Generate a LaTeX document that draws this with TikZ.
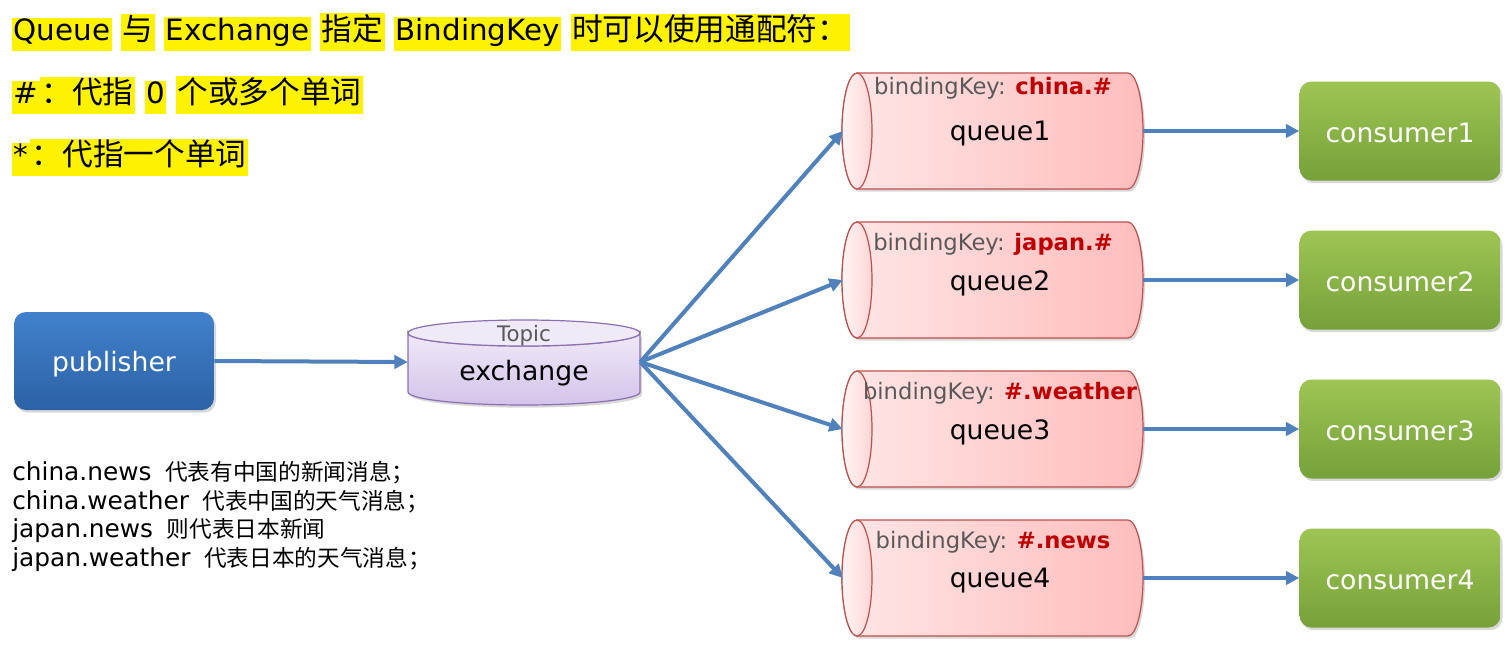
\documentclass[tikz,border=0pt]{standalone}
\usepackage{fontspec}
\setmainfont{DejaVu Sans}
\newfontfamily\cjk{Noto Sans CJK SC}
\usetikzlibrary{arrows.meta,shadows}
\definecolor{arrowblue}{HTML}{4F81BD}
\definecolor{pubtop}{HTML}{4181CC}
\definecolor{pubbot}{HTML}{2C62A6}
\definecolor{contop}{HTML}{9EC553}
\definecolor{conbot}{HTML}{76A13A}
\definecolor{qleft}{HTML}{FFE6E6}
\definecolor{qright}{HTML}{FFBDBD}
\definecolor{qendl}{HTML}{FFF4F4}
\definecolor{qendr}{HTML}{FFD6D6}
\definecolor{qborder}{HTML}{C0504D}
\definecolor{extop}{HTML}{F0E9F8}
\definecolor{exbot}{HTML}{D3C3EA}
\definecolor{exborder}{HTML}{8A70B0}
\definecolor{keyred}{HTML}{C00000}
\definecolor{greytext}{HTML}{595959}
\newcommand\zh[1]{{\cjk\fontsize{23}{20}\selectfont #1}}
\newcommand\zhn[1]{{\cjk\fontsize{17}{21.4}\selectfont #1}}
\newcommand\hlt[1]{{\setlength{\fboxsep}{1.2pt}\colorbox{yellow}{\strut #1}}}
\newcommand\queuecyl[1]{%
  \path[qbody] (857,#1-58) -- (1128,#1-58)
    arc[start angle=-90,end angle=90,x radius=15,y radius=58]
    -- (857,#1+58)
    arc[start angle=90,end angle=270,x radius=15,y radius=58] -- cycle;
  \path[qend] (857,#1) ellipse[x radius=15,y radius=58];
}
\tikzset{
  flow/.style={draw=arrowblue, line width=3pt, -{Triangle[length=10pt,width=10pt]}, shorten >=0pt},
  boxshadow/.style={drop shadow={opacity=0.3, shadow xshift=1.5pt, shadow yshift=-2pt}},
  pubbox/.style={rounded corners=9pt, top color=pubtop, bottom color=pubbot, minimum width=150pt, minimum height=73.5pt, inner sep=0pt, boxshadow},
  conbox/.style={rounded corners=9pt, top color=contop, bottom color=conbot, minimum width=150.75pt, minimum height=74.25pt, inner sep=0pt, boxshadow},
  boxlbl/.style={text=white, font=\fontsize{20}{24}\selectfont, inner sep=0pt},
  qbody/.style={draw=qborder, line width=0.9pt, left color=qleft, right color=qright, boxshadow},
  qend/.style={draw=qborder, line width=0.9pt, left color=qendl, right color=qendr},
  qnode/.style={minimum width=225pt, minimum height=87pt, inner sep=0pt},
  keylbl/.style={text=greytext, font=\fontsize{17}{20}\selectfont, inner sep=0pt},
  qlbl/.style={text=black, font=\fontsize{20}{24}\selectfont, inner sep=0pt},
  headline/.style={anchor=west, inner sep=0pt, font=\fontsize{22}{20}\selectfont},
}
\begin{document}
\begin{tikzpicture}[x=0.75pt, y=-0.75pt]
\useasboundingbox[fill=white] (0,0) rectangle (1511,647);

% headings
\node[headline] (title) at (12,32)
  {\hlt{Queue} \hlt{\zh{与}} \hlt{Exchange} \hlt{\zh{指定}} \hlt{BindingKey} \hlt{\zh{时可以使用通配符：}}};
\node[headline] (hash) at (12,95)
  {\hlt{\#}\hlt{\zh{：代指}} \hlt{0} \hlt{\zh{个或多个单词}}};
\node[headline] (star) at (12,157)
  {\hlt{*}\hlt{\zh{：代指一个单词}}};

% publisher
\node[pubbox] (pub) at (114,361) {};
\node[boxlbl] (publbl) at (114,364) {publisher};

% exchange cylinder
\path[draw=exborder, line width=0.9pt, top color=extop, bottom color=exbot, boxshadow]
  (408,333) -- (408,392) arc[start angle=180,end angle=0,x radius=116,y radius=13]
  -- (640,333) arc[start angle=0,end angle=180,x radius=116,y radius=13] -- cycle;
\path[draw=exborder, line width=0.9pt, fill=extop] (524,333) ellipse[x radius=116,y radius=13];
\node[minimum width=174pt, minimum height=64pt, inner sep=0pt] (ex) at (524,362) {};
\node[text=greytext, font=\fontsize{16}{19}\selectfont, inner sep=0pt] (topic) at (524,336) {Topic};
\node[qlbl] (exlbl) at (524,373) {exchange};

% queues
\queuecyl{131}
\queuecyl{280}
\queuecyl{429}
\queuecyl{578}
\node[qnode] (q1) at (993,131) {};
\node[qnode] (q2) at (993,280) {};
\node[qnode] (q3) at (993,429) {};
\node[qnode] (q4) at (993,578) {};
\node[keylbl] (k1) at (993,88) {bindingKey: \textcolor{keyred}{\textbf{china.\#}}};
\node[keylbl] (k2) at (993,244) {bindingKey: \textcolor{keyred}{\textbf{japan.\#}}};
\node[keylbl] (k3) at (1000,393) {bindingKey: \textcolor{keyred}{\textbf{\#.weather}}};
\node[keylbl] (k4) at (993,542) {bindingKey: \textcolor{keyred}{\textbf{\#.news}}};
\node[qlbl] (l1) at (1000,134) {queue1};
\node[qlbl] (l2) at (1000,283) {queue2};
\node[qlbl] (l3) at (1000,432) {queue3};
\node[qlbl] (l4) at (1000,581) {queue4};

% consumers
\node[conbox] (c1) at (1400,131) {};
\node[conbox] (c2) at (1400,280) {};
\node[conbox] (c3) at (1400,429) {};
\node[conbox] (c4) at (1400,578) {};
\node[boxlbl] (cl1) at (1400,133) {consumer1};
\node[boxlbl] (cl2) at (1400,282) {consumer2};
\node[boxlbl] (cl3) at (1400,431) {consumer3};
\node[boxlbl] (cl4) at (1400,580) {consumer4};

% notes
\node[anchor=north west, align=left, inner sep=0pt, font=\fontsize{18.6}{21.4}\selectfont] (notes) at (12,461)
  {china.news\hspace{0.55em}\zhn{代表有中国的新闻消息；}\\
   china.weather\hspace{0.55em}\zhn{代表中国的天气消息；}\\
   japan.news\hspace{0.55em}\zhn{则代表日本新闻}\\
   japan.weather\hspace{0.55em}\zhn{代表日本的天气消息；}};

% connectors
\draw[flow] (pub.east) -- (ex.west);
\draw[flow] (ex.east) -- (q1.west);
\draw[flow] (ex.east) -- (q2.west);
\draw[flow] (ex.east) -- (q3.west);
\draw[flow] (ex.east) -- (q4.west);
\draw[flow] (q1.east) -- (c1.west);
\draw[flow] (q2.east) -- (c2.west);
\draw[flow] (q3.east) -- (c3.west);
\draw[flow] (q4.east) -- (c4.west);
\end{tikzpicture}
\end{document}
